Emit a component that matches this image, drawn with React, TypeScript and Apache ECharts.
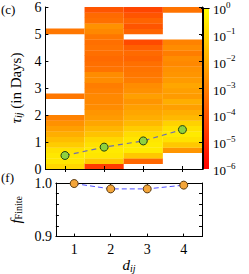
import React, { useEffect, useRef } from "react";
import * as echarts from "echarts";

const categories = ["1", "2", "3", "4"];
// lower edge of each duration bin (days)
const binStart = [0, 0.2, 0.4, 0.6, 0.8, 1.0, 1.2, 1.4, 1.6, 1.8, 2.0, 2.2, 2.4, 2.6, 2.8, 3.0, 3.2, 3.4, 3.6, 3.8, 4.0, 4.2, 4.4, 4.6, 4.8, 5.0, 5.2, 5.4, 5.6, 5.8];
const binWidth = 0.2;
// log10 of probability per bin, null = empty
const col1 = [-0.95, -0.6, -0.55, -0.7, -1.2, -1.55, -1.9, -2.25, -2.6, -2.95, null, null, null, -3.2, null, null, null, null, null, null, null, null, null, null, null, -3.2, null, null, null, null];
const col2 = [-4.6, -1.3, -0.6, -0.5, -0.7, -0.95, -1.4, -1.75, -2.1, -2.35, -2.5, -2.7, -2.8, -2.8, -2.95, -3.05, -2.7, -2.7, -3.3, -3.4, -3.5, -3.4, -3.3, -3.4, -3.2, -2.8, -2.6, -3.4, -3.5, -4.0];
const col3 = [null, -3.6, -1.3, -0.5, -0.5, -0.6, -0.8, -1.2, -1.65, -1.9, -2.1, -2.25, -2.5, -2.25, -2.6, -2.7, -3.05, -3.2, -3.3, -3.4, -3.65, -3.5, -3.75, -4.25, null, -3.65, -4.0, -3.65, -4.0, -4.35];
const col4 = [null, null, null, -2.5, -1.3, -0.7, -0.5, -0.7, -1.05, -1.65, -1.9, -2.25, -1.9, -2.35, -2.25, -2.1, -2.35, -2.5, -2.6, -2.8, -2.7, -3.05, -2.7, -2.95, null, null, null, null, null, -3.3];
const columns = [col1, col2, col3, col4];
const meanTau = [0.5, 0.81, 1.04, 1.46];
const fFinite = [0.999, 0.989, 0.989, 0.996];
const cbarMin = -6;
const cbarMax = 0;

const FONT = "Liberation Serif";

function autumn(logv: number) {
  const t = Math.max(0, Math.min(1, (logv - cbarMin) / (cbarMax - cbarMin)));
  return `rgb(255,${Math.round(255 * t)},0)`;
}

export default function App() {
  const ref = useRef<HTMLDivElement>(null);
  useEffect(() => {
    const chart = echarts.init(ref.current!, null, { renderer: "svg" });
    const heat: number[][] = [];
    columns.forEach((col, ci) => {
      col.forEach((v, bi) => {
        if (v !== null) heat.push([ci, binStart[bi], binStart[bi] + binWidth, v as number]);
      });
    });
    const black = { lineStyle: { color: "#000", width: 1 } };
    const tick = (len: number) => ({ show: true, inside: true, length: len, alignWithLabel: true, lineStyle: { color: "#000", width: 1 } });
    const option: any = {
      animation: false,
      grid: [
        { left: 43, top: 7, width: 159, height: 162 },
        { left: 43, top: 183, width: 159, height: 55 },
        { left: 203, top: 7, width: 6, height: 162 },
      ],
      graphic: [
        { type: "text", left: 1, top: 3, style: { text: "(c)", font: `13px ${FONT}`, fill: "#000" } },
        { type: "text", left: 1, top: 171, style: { text: "(f)", font: `13px ${FONT}`, fill: "#000" } },
      ],
      xAxis: [
        { gridIndex: 0, type: "category", data: categories, position: "bottom", z: 10, axisLine: { show: true, ...black }, axisTick: tick(3), axisLabel: { show: false }, splitLine: { show: false } },
        { gridIndex: 0, type: "category", data: categories, position: "top", z: 10, axisLine: { show: true, ...black }, axisTick: tick(3), axisLabel: { show: false }, splitLine: { show: false } },
        {
          gridIndex: 1, type: "category", data: categories, position: "bottom", z: 10,
          axisLine: { show: true, ...black }, axisTick: tick(3),
          axisLabel: { show: true, fontFamily: FONT, fontSize: 14, color: "#000", margin: 6 },
          splitLine: { show: false },
          name: "{i|d}{s|ij}", nameLocation: "middle", nameGap: 19,
          nameTextStyle: { rich: { i: { fontFamily: FONT, fontSize: 15, fontStyle: "italic", color: "#000" }, s: { fontFamily: FONT, fontSize: 10, fontStyle: "italic", color: "#000", verticalAlign: "bottom", padding: [6, 0, 0, 0] } } },
        },
        { gridIndex: 1, type: "category", data: categories, position: "top", z: 10, axisLine: { show: true, ...black }, axisTick: tick(3), axisLabel: { show: false }, splitLine: { show: false } },
        { gridIndex: 2, type: "value", min: 0, max: 1, position: "bottom", z: 10, axisLine: { show: true, ...black }, axisTick: { show: false }, axisLabel: { show: false }, splitLine: { show: false } },
        { gridIndex: 2, type: "value", min: 0, max: 1, position: "top", z: 10, axisLine: { show: true, ...black }, axisTick: { show: false }, axisLabel: { show: false }, splitLine: { show: false } },
      ],
      yAxis: [
        {
          gridIndex: 0, type: "value", min: 0, max: 6, interval: 1, position: "left", z: 10,
          axisLine: { show: true, ...black }, axisTick: tick(3), splitLine: { show: false },
          axisLabel: { fontFamily: FONT, fontSize: 14, color: "#000", margin: 4 },
          name: "{t|τ}{s|ij}{n| (in Days)}", nameLocation: "middle", nameRotate: 90, nameGap: 15,
          nameTextStyle: { rich: {
            t: { fontFamily: FONT, fontSize: 15, fontStyle: "italic", color: "#000" },
            s: { fontFamily: FONT, fontSize: 10, fontStyle: "italic", color: "#000", verticalAlign: "bottom", padding: [6, 0, 0, 0] },
            n: { fontFamily: FONT, fontSize: 15, color: "#000" },
          } },
        },
        { gridIndex: 0, type: "value", min: 0, max: 6, interval: 1, position: "right", z: 10, axisLine: { show: true, ...black }, axisTick: tick(3), axisLabel: { show: false }, splitLine: { show: false } },
        {
          gridIndex: 1, type: "value", min: 0.9, max: 1.0, interval: 0.02, position: "left", z: 10,
          axisLine: { show: true, ...black }, axisTick: tick(3), splitLine: { show: false },
          axisLabel: {
            fontFamily: FONT, fontSize: 14, color: "#000", margin: 4,
            formatter: (v: number) => (Math.abs(v - 0.9) < 1e-6 || Math.abs(v - 1.0) < 1e-6 ? v.toFixed(1) : ""),
          },
          name: "{f|f}{s|Finite}", nameLocation: "middle", nameRotate: 90, nameGap: 24,
          nameTextStyle: { rich: {
            f: { fontFamily: FONT, fontSize: 15, fontStyle: "italic", color: "#000" },
            s: { fontFamily: FONT, fontSize: 10, color: "#000", verticalAlign: "bottom", padding: [6, 0, 0, 0] },
          } },
        },
        { gridIndex: 1, type: "value", min: 0.9, max: 1.0, interval: 0.02, position: "right", z: 10, axisLine: { show: true, ...black }, axisTick: tick(3), axisLabel: { show: false }, splitLine: { show: false } },
        { gridIndex: 2, type: "value", min: cbarMin, max: cbarMax, interval: 1, position: "left", z: 10, axisLine: { show: true, ...black }, axisTick: { show: false }, axisLabel: { show: false }, splitLine: { show: false } },
        {
          gridIndex: 2, type: "value", min: cbarMin, max: cbarMax, interval: 1, position: "right", z: 10,
          axisLine: { show: true, ...black }, axisTick: tick(2), splitLine: { show: false },
          axisLabel: {
            margin: 4,
            formatter: (v: number) => `{b|10}{s|${v === 0 ? "0" : "−" + Math.abs(v)}}`,
            rich: {
              b: { fontFamily: FONT, fontSize: 13, color: "#000", lineHeight: 16, verticalAlign: "bottom" },
              s: { fontFamily: FONT, fontSize: 9, color: "#000", lineHeight: 16, verticalAlign: "top" },
            },
          },
        },
      ],
      series: [
        {
          type: "custom", xAxisIndex: 0, yAxisIndex: 0, z: 2, data: heat,
          renderItem: (params: any, api: any) => {
            const x = api.value(0);
            const p0 = api.coord([x, api.value(1)]);
            const p1 = api.coord([x, api.value(2)]);
            const w = api.size([1, 0])[0];
            return {
              type: "rect",
              shape: { x: p0[0] - w / 2, y: p1[1], width: w, height: p0[1] - p1[1] + 0.3 },
              style: { fill: autumn(api.value(3)), stroke: null },
            };
          },
        },
        {
          type: "line", xAxisIndex: 0, yAxisIndex: 0, z: 12, data: meanTau, clip: false,
          lineStyle: { color: "#6f6fb0", width: 1.2, type: [5, 4] },
          symbol: "circle", symbolSize: 8,
          itemStyle: { color: "#8fd13f", borderColor: "#23400f", borderWidth: 1 },
        },
        {
          type: "line", xAxisIndex: 2, yAxisIndex: 2, z: 12, data: fFinite, clip: false,
          lineStyle: { color: "#4f4fff", width: 1, type: [5, 3] },
          symbol: "circle", symbolSize: 8,
          itemStyle: { color: "#f3a53a", borderColor: "#5a3a10", borderWidth: 1 },
        },
        {
          type: "custom", xAxisIndex: 4, yAxisIndex: 4, z: 2, data: [[0, cbarMin, 1, cbarMax]],
          renderItem: (params: any, api: any) => {
            const p0 = api.coord([api.value(0), api.value(1)]);
            const p1 = api.coord([api.value(2), api.value(3)]);
            return {
              type: "rect",
              shape: { x: p0[0], y: p1[1], width: p1[0] - p0[0], height: p0[1] - p1[1] },
              style: {
                fill: new echarts.graphic.LinearGradient(0, 1, 0, 0, [
                  { offset: 0, color: autumn(cbarMin) },
                  { offset: 1, color: autumn(cbarMax) },
                ]),
              },
            };
          },
        },
      ],
    };
    chart.setOption(option);
    return () => chart.dispose();
  }, []);
  return <div ref={ref} style={{ position: "absolute", left: 0, top: 0, width: 249, height: 274 }} />;
}
